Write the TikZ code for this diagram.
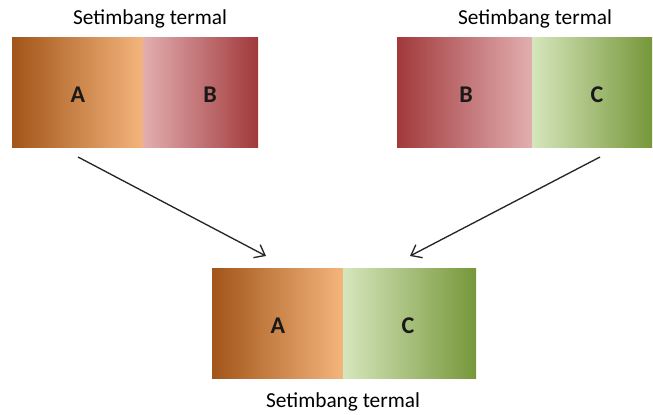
\documentclass[tikz,border=0pt]{standalone}
\usepackage{fontspec}
\setmainfont{Carlito}
\usetikzlibrary{arrows.meta}
\definecolor{brownD}{HTML}{A25519}
\definecolor{peach}{HTML}{F4B57C}
\definecolor{pinkL}{HTML}{E2AEB0}
\definecolor{redD}{HTML}{A1393B}
\definecolor{greenL}{HTML}{D6E6BC}
\definecolor{greenD}{HTML}{76973A}
\tikzset{
  lbl/.style={font=\fontsize{16}{18}\selectfont, inner sep=0pt},
  let/.style={font=\fontsize{18}{20}\selectfont\bfseries, text=black!90, inner sep=0pt},
  arr/.style={-{Straight Barb[length=7pt,width=11pt]}, line width=1pt, black!85}
}
\begin{document}
\begin{tikzpicture}[x=0.75pt,y=-0.75pt]
\useasboundingbox (0,0) rectangle (653,414);
% top-left
\shade[left color=brownD, right color=peach] (12,37) rectangle (143,147);
\shade[left color=pinkL, right color=redD] (143,37) rectangle (258,147);
% top-right
\shade[left color=redD, right color=pinkL] (397,37) rectangle (532,147);
\shade[left color=greenL, right color=greenD] (532,37) rectangle (652,147);
% bottom
\shade[left color=brownD, right color=peach] (212,268) rectangle (343,378);
\shade[left color=greenL, right color=greenD] (343,268) rectangle (476,378);

\node[lbl] (t1) at (150,19) {Setimbang termal};
\node[lbl] (t2) at (535,19) {Setimbang termal};
\node[lbl] (t3) at (343,402) {Setimbang termal};

\node[let] (a1) at (78,95) {A};
\node[let] (b1) at (210,95) {B};
\node[let] (b2) at (466,95) {B};
\node[let] (c2) at (597,95) {C};
\node[let] (a3) at (278,326) {A};
\node[let] (c3) at (408,326) {C};

\coordinate (s1) at (78,157);
\coordinate (e1) at (266,256);
\coordinate (s2) at (600,157);
\coordinate (e2) at (410,256);
\draw[arr] (s1) -- (e1);
\draw[arr] (s2) -- (e2);
\end{tikzpicture}
\end{document}
